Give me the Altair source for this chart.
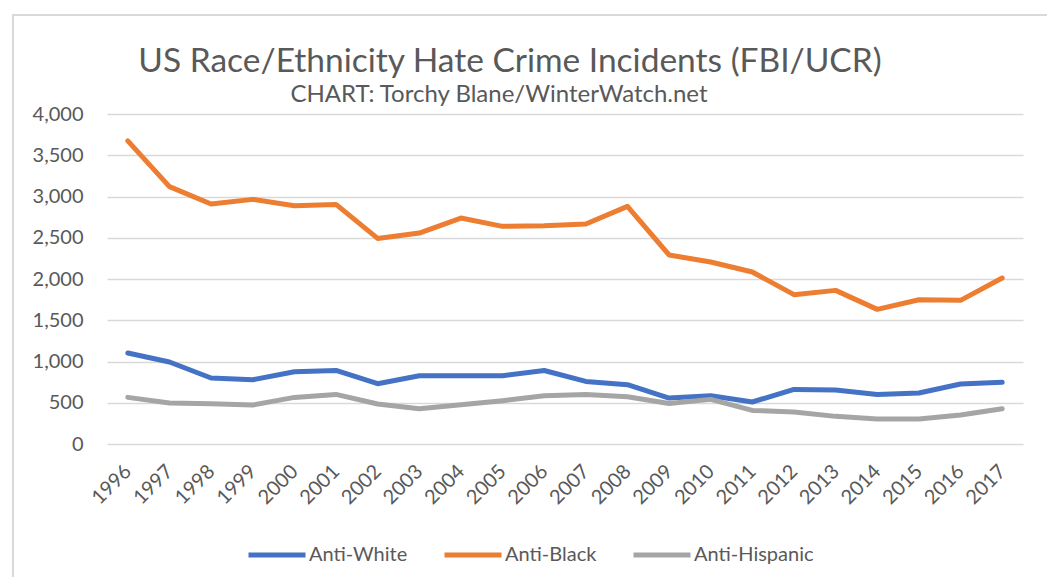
import altair as alt
import pandas as pd

years = [str(y) for y in range(1996, 2018)]
anti_white = [1103, 994, 800, 779, 876, 892, 731, 828, 828, 828, 891, 759, 719, 557, 585, 509, 662, 654, 601, 618, 727, 747]
anti_black = [3674, 3120, 2909, 2965, 2888, 2904, 2492, 2557, 2739, 2638, 2646, 2666, 2880, 2291, 2206, 2085, 1810, 1862, 1632, 1749, 1741, 2012]
anti_hispanic = [565, 497, 488, 472, 565, 601, 485, 428, 476, 525, 585, 601, 573, 492, 541, 407, 388, 335, 303, 303, 351, 428]
series_names = ["Anti-White", "Anti-Black", "Anti-Hispanic"]
series_colors = ["#4472C4", "#ED7D31", "#A5A5A5"]
y_ticks = [0, 500, 1000, 1500, 2000, 2500, 3000, 3500, 4000]
title_text = "US Race/Ethnicity Hate Crime Incidents (FBI/UCR)"
subtitle_text = "CHART: Torchy Blane/WinterWatch.net"

rows = []
for name, vals in zip(series_names, [anti_white, anti_black, anti_hispanic]):
    for yr, v in zip(years, vals):
        rows.append({"Year": yr, "Series": name, "Value": v, "order": series_names.index(name)})
df = pd.DataFrame(rows)

FONT = "Lato"
GREY = "#595959"
one = pd.DataFrame({"a": [0]})

frame = alt.Chart(one).mark_rect(
    fill="transparent", stroke="#D9D9D9", strokeWidth=2
).encode(
    x=alt.value(-94), x2=alt.value(944), y=alt.value(-99), y2=alt.value(500)
)

title = alt.Chart(one).mark_text(
    text=title_text, font=FONT, fontSize=33.5, color=GREY, align="center", baseline="alphabetic"
).encode(x=alt.value(403), y=alt.value(-42))

subtitle = alt.Chart(one).mark_text(
    text=subtitle_text, font=FONT, fontSize=24, color=GREY, align="center", baseline="alphabetic"
).encode(x=alt.value(392), y=alt.value(-12))

lines = alt.Chart(df).mark_line(strokeWidth=5, strokeJoin="round", strokeCap="round").encode(
    x=alt.X("Year:N", sort=years, title=None,
            scale=alt.Scale(paddingInner=0, paddingOuter=0.5),
            axis=alt.Axis(labelAngle=-45, labelAlign="right", labelBaseline="middle",
                          labelPadding=24, labelFontSize=20, labelColor=GREY, labelFont=FONT,
                          ticks=False, domain=False, grid=False)),
    y=alt.Y("Value:Q", title=None,
            scale=alt.Scale(domain=[0, 4000], nice=False),
            axis=alt.Axis(values=y_ticks, format=",d", labelFontSize=20, labelColor=GREY,
                          labelFont=FONT, labelPadding=24, ticks=False, domain=False,
                          grid=True, gridColor="#D9D9D9", gridWidth=1.5)),
    color=alt.Color("Series:N", sort=series_names,
                    scale=alt.Scale(domain=series_names, range=series_colors),
                    legend=alt.Legend(title=None, orient="none", direction="horizontal",
                                      legendX=139, legendY=410, symbolType="stroke",
                                      symbolSize=3249, symbolStrokeWidth=5,
                                      labelFontSize=20, labelColor=GREY, labelFont=FONT,
                                      labelOffset=1, columnPadding=26, padding=0)),
    order="order:Q",
)

chart = alt.layer(frame, title, subtitle, lines).properties(
    width=916, height=330,
    autosize=alt.AutoSizeParams(type="none"),
    padding={"left": 99, "top": 106, "right": 24, "bottom": 133},
).configure_view(stroke=None)

chart.save("out.html", embed_options={"renderer": "svg", "actions": False})
